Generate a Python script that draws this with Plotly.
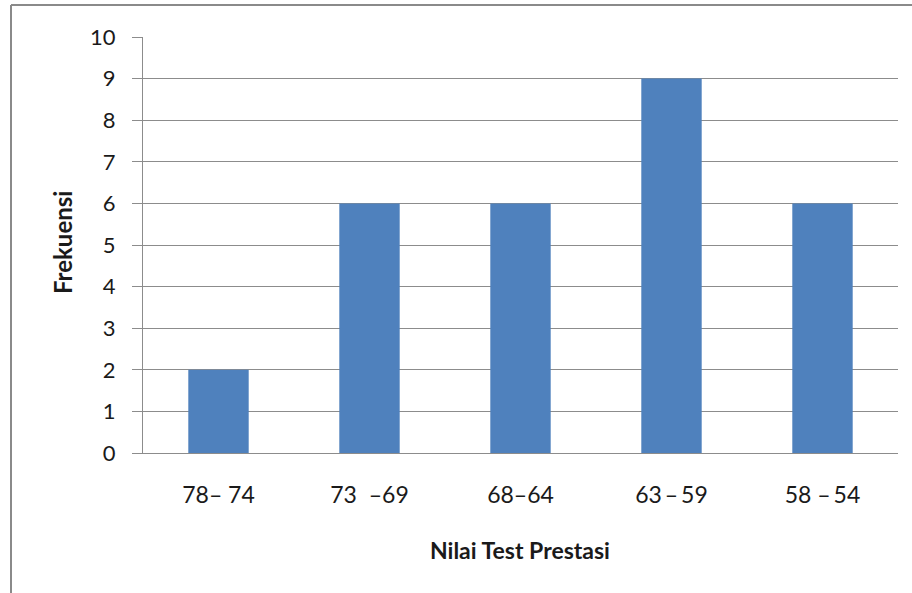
import plotly.graph_objects as go

categories = ["78\u2013 74", "73  \u201369", "68\u201364", "63\u2009\u2013\u200959", "58 \u2013\u200954"]
frekuensi = [2, 6, 6, 9, 6]
y_ticks = list(range(0, 11))

W, H = 912, 593
L, R, T, B = 143, 14, 37, 140
pw, ph = W - L - R, H - T - B

FONT = "Lato, 'Open Sans', sans-serif"
GRID = "#8c8c8c"

fig = go.Figure(go.Bar(x=categories, y=frekuensi, marker=dict(color="#4F81BD", line=dict(width=0))))

fig.update_layout(
    width=W, height=H,
    margin=dict(l=L, r=R, t=T, b=B),
    paper_bgcolor="white", plot_bgcolor="white",
    bargap=0.6,
    showlegend=False,
    font=dict(family=FONT, color="#1a1a1a"),
)
fig.update_yaxes(
    range=[0, 10], tickvals=y_ticks, showgrid=True, gridcolor=GRID, gridwidth=1,
    showline=True, linecolor=GRID, linewidth=1,
    ticks="outside", ticklen=10, tickcolor=GRID,
    tickfont=dict(size=22, family=FONT, color="#1a1a1a"),
    ticklabelstandoff=12, zeroline=False,
)
fig.update_xaxes(
    showline=True, linecolor=GRID, linewidth=1, showgrid=False,
    ticks="", tickfont=dict(size=23, family=FONT, color="#1a1a1a"),
    ticklabelstandoff=21,
)

def px(x):
    return (x - L) / pw

def py(y):
    return (H - B - y) / ph

# outer chart border (top and left)
fig.add_shape(type="line", xref="paper", yref="paper", x0=px(11), x1=px(912), y0=py(5), y1=py(5),
              line=dict(color="#8a8a8a", width=2))
fig.add_shape(type="line", xref="paper", yref="paper", x0=px(11), x1=px(11), y0=py(5), y1=py(593),
              line=dict(color="#8a8a8a", width=2))

fig.add_annotation(text="<b>Nilai Test Prestasi</b>", xref="paper", yref="paper",
                   x=px(520), y=py(550), showarrow=False, xanchor="center", yanchor="middle",
                   font=dict(size=23, family=FONT, color="#1a1a1a"))
fig.add_annotation(text="<b>Frekuensi</b>", xref="paper", yref="paper",
                   x=px(62), y=py(243), showarrow=False, xanchor="center", yanchor="middle",
                   textangle=-90, font=dict(size=24, family=FONT, color="#1a1a1a"))

fig.write_html("out.html", config={"displayModeBar": False},
               post_script="document.body.style.margin='0';document.body.style.overflow='hidden';")
